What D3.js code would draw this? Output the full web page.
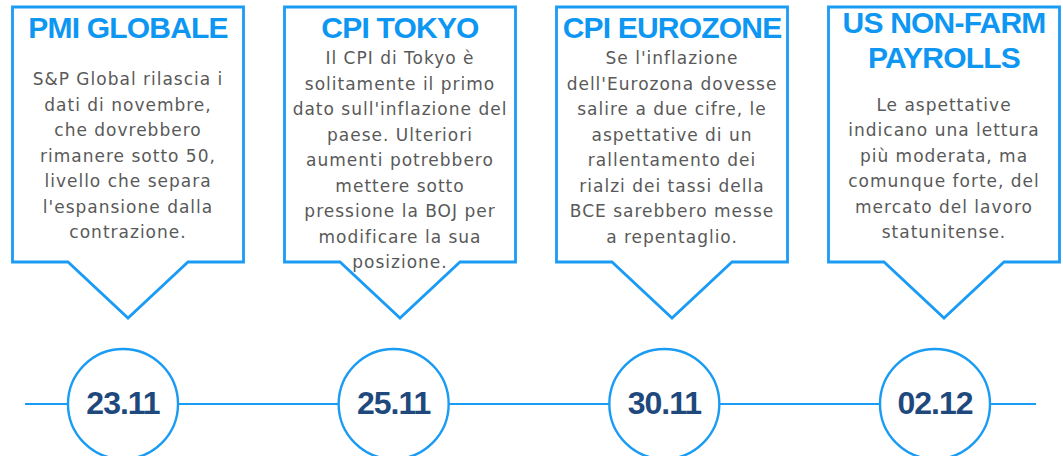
<!DOCTYPE html>
<html>
<head>
<meta charset="utf-8">
<title>calendario macro</title>
<script src="https://cdnjs.cloudflare.com/ajax/libs/d3/7.8.5/d3.min.js"></script>
<style>
  body { margin: 0; background: #fff; }
</style>
</head>
<body>
<div id="vis_container"></div>
<script>

// dates shown in the circles
var dates = ["23.11", "25.11", "30.11", "02.12"];

// callout titles (one entry per line)
var titles = [
    ["PMI GLOBALE"],
    ["CPI TOKYO"],
    ["CPI EUROZONE"],
    ["US NON-FARM", "PAYROLLS"]
];

// callout body text, already broken into lines
var bodies = [
    ["S&P Global rilascia i", "dati di novembre,", "che dovrebbero", "rimanere sotto 50,",
     "livello che separa", "l'espansione dalla", "contrazione."],
    ["Il CPI di Tokyo è", "solitamente il primo", "dato sull'inflazione del", "paese. Ulteriori",
     "aumenti potrebbero", "mettere sotto", "pressione la BOJ per", "modificare la sua", "posizione."],
    ["Se l'inflazione", "dell'Eurozona dovesse", "salire a due cifre, le", "aspettative di un",
     "rallentamento dei", "rialzi dei tassi della", "BCE sarebbero messe", "a repentaglio."],
    ["Le aspettative", "indicano una lettura", "più moderata, ma", "comunque forte, del",
     "mercato del lavoro", "statunitense."]
];

var width = 1063, height = 456;
var blue = "#1a9cf4", titleBlue = "#0d97f3", navy = "#1f497d", grey = "#595959";

var svg = d3.select("#vis_container")
    .append("svg")
    .attr("width", width)
    .attr("height", height);

// x positions for callouts and for the date circles
var xBox = d3.scalePoint().domain(dates).range([128, 944]);
var xCircle = d3.scalePoint().domain(dates).range([123, 935]);

var boxHalf = 115.5, boxTop = 7, boxBottom = 262;
var tipHalf = 60, tipY = 318;
var lineY = 404, radius = 55;

// timeline
svg.append("line")
    .attr("x1", 25).attr("x2", 1036)
    .attr("y1", lineY).attr("y2", lineY)
    .style("stroke", blue)
    .style("stroke-width", 2.2);

var events = dates.map(function(d, i) {
    return { date: d, title: titles[i], body: bodies[i] };
});

// callouts
var box = svg.selectAll("g.callout").data(events)
    .enter().append("g")
    .attr("class", "callout")
    .attr("transform", function(d) { return "translate(" + xBox(d.date) + ",0)"; });

box.append("path")
    .attr("d", function() {
        var p = d3.path();
        p.moveTo(-boxHalf, boxTop);
        p.lineTo(boxHalf, boxTop);
        p.lineTo(boxHalf, boxBottom);
        p.lineTo(tipHalf, boxBottom);
        p.lineTo(0, tipY);
        p.lineTo(-tipHalf, boxBottom);
        p.lineTo(-boxHalf, boxBottom);
        p.closePath();
        return p.toString();
    })
    .style("fill", "#fff")
    .style("stroke", blue)
    .style("stroke-width", 2.8)
    .style("stroke-linejoin", "miter");

box.each(function(d) {
    var g = d3.select(this);
    var t0 = 38 - (d.title.length - 1) * 5;
    g.selectAll("text.title").data(d.title)
        .enter().append("text")
        .attr("class", "title")
        .attr("x", 0)
        .attr("y", function(s, j) { return t0 + j * 35; })
        .attr("text-anchor", "middle")
        .style("font-family", "'Liberation Sans', Arial, sans-serif")
        .style("font-weight", "bold")
        .style("font-size", "30px")
        .style("letter-spacing", "-0.8px")
        .style("fill", titleBlue)
        .text(function(s) { return s; });

    var lh = 25.5;
    var titleEnd = t0 + (d.title.length - 1) * 35;
    var b0 = Math.max(titleEnd + 26, 238 - (d.body.length - 1) * lh);
    g.selectAll("text.body").data(d.body)
        .enter().append("text")
        .attr("class", "body")
        .attr("x", 0)
        .attr("y", function(s, j) { return b0 + j * lh; })
        .attr("text-anchor", "middle")
        .style("font-family", "'DejaVu Sans', Verdana, sans-serif")
        .style("font-size", "17px")
        .style("letter-spacing", "1px")
        .style("fill", grey)
        .text(function(s) { return s; });
});

// date circles
var dot = svg.selectAll("g.date").data(events)
    .enter().append("g")
    .attr("class", "date")
    .attr("transform", function(d) { return "translate(" + xCircle(d.date) + "," + lineY + ")"; });

dot.append("circle")
    .attr("r", radius)
    .style("fill", "#fff")
    .style("stroke", blue)
    .style("stroke-width", 2.4);

dot.append("text")
    .attr("y", 10)
    .attr("text-anchor", "middle")
    .style("font-family", "'Liberation Sans', Arial, sans-serif")
    .style("font-weight", "bold")
    .style("font-size", "32px")
    .style("letter-spacing", "-1px")
    .style("fill", navy)
    .text(function(d) { return d.date; });

</script>
</body>
</html>
